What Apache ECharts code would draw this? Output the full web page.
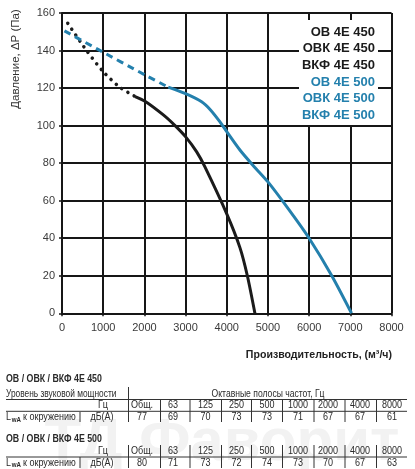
<!DOCTYPE html>
<html>
<head>
<meta charset="utf-8">
<script src="https://cdn.jsdelivr.net/npm/echarts@6/dist/echarts.min.js"></script>
<style>
html,body{margin:0;padding:0;background:#fff;}
#chart{width:415px;height:469px;}
</style>
</head>
<body>
<div id="chart"></div>
<script>
// ---- Data ----
var xTicks = [0, 1000, 2000, 3000, 4000, 5000, 6000, 7000, 8000];
var yTicks = [0, 20, 40, 60, 80, 100, 120, 140, 160];

// OB 4E 450 (black): dotted (unstable) part and working part
var black450Dotted = [[140,154.5],[580,140.5],[990,129],[1400,120.5],[1775,115.5]];
var black450Solid = [[1775,115.5],[2015,113],[2460,105.7],[2745,100],[3003,94],[3270,86],[3470,78],[4000,53],[4320,35],[4500,20],[4684,0]];

// OB 4E 500 (blue)
var blue500Dashed = [[60,150.5],[840,141],[2015,127],[2580,120.5]];
var blue500Solid = [[2580,120.5],[3000,117],[3390,112.7],[3600,108.5],[3836,102],[4000,96.8],[4320,87],[4650,78.5],[5000,70],[5500,55.5],[6000,40],[6550,20],[7030,0]];

var legend450 = ['ОВ 4Е 450', 'ОВК 4Е 450', 'ВКФ 4Е 450'];
var legend500 = ['ОВ 4Е 500', 'ОВК 4Е 500', 'ВКФ 4Е 500'];

var yAxisName = 'Давление, ΔP (Па)';
var xAxisName = 'Производительность, (м³/ч)';

// Sound table
var title450 = 'ОВ / ОВК / ВКФ 4Е 450';
var title500 = 'ОВ / ОВК / ВКФ 4Е 500';
var freqHeader = ['Общ.', '63', '125', '250', '500', '1000', '2000', '4000', '8000'];
var lw450 = [77, 69, 70, 73, 73, 71, 67, 67, 61];
var lw500 = [80, 71, 73, 72, 74, 73, 70, 67, 63];

// ---- Styles ----
var BLACK = '#1b1b1b';
var BLUE = '#2480ad';
var GRID = '#161616';
var sans = "'Liberation Sans',Arial,sans-serif";

var chart = echarts.init(document.getElementById('chart'), null, {renderer:'canvas'});

var graphics = [];
// legend box
graphics.push({type:'rect', shape:{x:299,y:20,width:79,height:105}, style:{fill:'#fff'}, z:50});
legend450.concat(legend500).forEach(function(t,i){
  graphics.push({type:'text', x:375, y:32.3 + i*16.55, z:51,
    style:{text:t, fill: i<3?BLACK:BLUE, font:'bold 13px '+sans, textAlign:'right', textVerticalAlign:'middle'}});
});
// y axis name
graphics.push({type:'text', x:16, y:59, rotation:Math.PI/2, z:51,
  style:{text:yAxisName, fill:'#333', font:'11.5px '+sans, textAlign:'center', textVerticalAlign:'middle'}});
// x axis name
graphics.push({type:'text', x:392, y:355, z:51, scaleX:0.92,
  style:{text:xAxisName, fill:'#222', font:'bold 11.5px '+sans, textAlign:'right', textVerticalAlign:'middle'}});

// watermark
graphics.push({type:'text', x:222, y:443, z:1,
  style:{text:'ТД Фаворит', fill:'#f2f2f2', font:'bold 60px '+sans, textAlign:'center', textVerticalAlign:'middle'}});

// table
var colX = [142, 173, 205.5, 236.5, 267, 298, 328, 360, 392];
var sepX = [128.5, 160.5, 190, 221.5, 251.5, 282.5, 314, 345, 376.5];
function txt(t, x, y, opts){
  opts = opts || {};
  graphics.push({type:'text', x:x, y:y, z:20, scaleX:opts.sx||0.82, style:{text:t, fill:opts.color||'#2a2a2a',
    font:(opts.bold?'bold ':'')+(opts.size||11)+'px '+sans,
    textAlign:opts.align||'center', textVerticalAlign:'middle'}});
}
function hline(x1,x2,y){ graphics.push({type:'line', z:20, shape:{x1:x1,y1:y,x2:x2,y2:y}, style:{stroke:'#333', lineWidth:1}}); }
function vline(x,y1,y2){ graphics.push({type:'line', z:20, shape:{x1:x,y1:y1,x2:x,y2:y2}, style:{stroke:'#333', lineWidth:1}}); }

function lwaLabel(y){
  txt('L', 6, y, {align:'left'});
  txt('wA', 11.8, y+2.5, {align:'left', size:7.5, bold:true});
  txt('к окружению', 23, y, {align:'left'});
}

// 450 table
txt(title450, 6, 379, {align:'left', bold:true, size:11, sx:0.8});
txt('Уровень звуковой мощности', 6, 393.5, {align:'left', sx:0.76});
txt('Октавные полосы частот, Гц', 268, 393.5, {sx:0.78});
hline(6, 407, 399.5);
vline(sepX[0], 387, 422);
txt('Гц', 103, 405.3);
hline(6, 407, 411.3);
lwaLabel(417);
vline(80, 412, 422);
txt('дБ(A)', 102, 417);
freqHeader.forEach(function(f,i){ txt(f, colX[i], 405.3); txt(String(lw450[i]), colX[i], 417); });
sepX.slice(1).forEach(function(x){ vline(x, 400, 422); });

// 500 table
txt(title500, 6, 438.7, {align:'left', bold:true, size:11, sx:0.8});
txt('Гц', 103, 451.3);
hline(6, 407, 457);
lwaLabel(462.5);
vline(80, 457, 468);
txt('дБ(A)', 102, 462.5);
freqHeader.forEach(function(f,i){ txt(f, colX[i], 451.3); txt(String(lw500[i]), colX[i], 462.5); });
sepX.forEach(function(x){ vline(x, 445, 468); });

var option = {
  backgroundColor:'#fff',
  animation:false,
  grid:{left:62, top:13, width:329.5, height:300.3, containLabel:false},
  xAxis:{type:'value', min:xTicks[0], max:xTicks[xTicks.length-1], interval:1000,
    axisLine:{show:true, onZero:false, lineStyle:{color:GRID, width:2}},
    axisTick:{show:true, length:3, lineStyle:{color:GRID, width:1.5}},
    axisLabel:{color:'#3a3a3a', fontSize:11, fontFamily:sans, margin:9, formatter:function(v){return String(v);}},
    splitLine:{show:true, lineStyle:{color:GRID, width:2}}},
  yAxis:{type:'value', min:yTicks[0], max:yTicks[yTicks.length-1], interval:20,
    axisLine:{show:true, onZero:false, lineStyle:{color:GRID, width:2}},
    axisTick:{show:true, length:3, lineStyle:{color:GRID, width:1.5}},
    axisLabel:{color:'#3a3a3a', fontSize:11, fontFamily:sans, margin:7, formatter:function(v){return String(v);}},
    splitLine:{show:true, lineStyle:{color:GRID, width:2}}},
  graphic:{elements:graphics},
  series:[
    {name:'450 dotted', type:'line', data:black450Dotted, smooth:0.25, showSymbol:false, z:5,
      lineStyle:{color:BLACK, width:3.5, type:[0.1,7], cap:'round'}},
    {name:'450', type:'line', data:black450Solid, smooth:0.25, showSymbol:false, z:5,
      lineStyle:{color:BLACK, width:3}},
    {name:'500 dashed', type:'line', data:blue500Dashed, smooth:0.25, showSymbol:false, z:5,
      lineStyle:{color:BLUE, width:3, type:[7,5]}},
    {name:'500', type:'line', data:blue500Solid, smooth:0.25, showSymbol:false, z:5,
      lineStyle:{color:BLUE, width:3}}
  ]
};
chart.setOption(option);
</script>
</body>
</html>
